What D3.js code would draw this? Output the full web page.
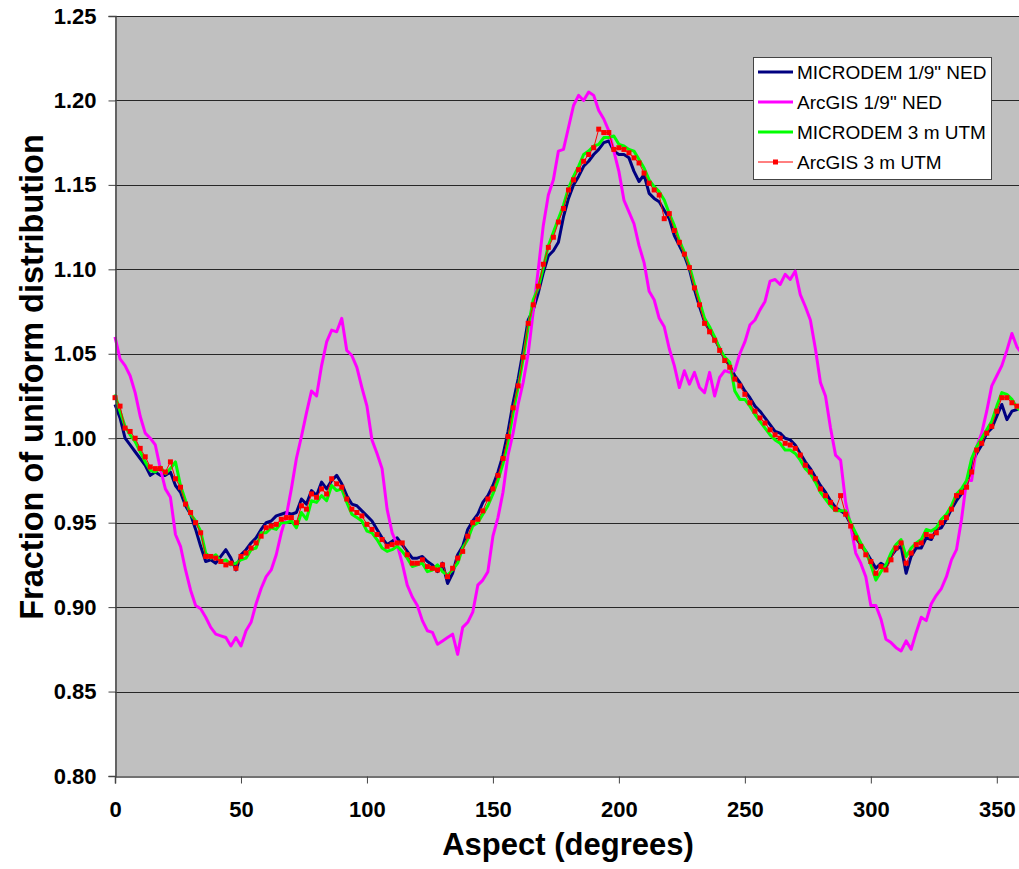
<!DOCTYPE html>
<html>
<head>
<meta charset="utf-8">
<script src="https://cdn.jsdelivr.net/npm/d3@7"></script>
<style>
  body { margin: 0; background: #fff; }
  svg { display: block; font-family: "Liberation Sans", Arial, sans-serif; }
</style>
</head>
<body>
<script>
// aspect, every 2 degrees
var aspect = d3.range(0, 361, 2);

var yTicks = [0.80, 0.85, 0.90, 0.95, 1.00, 1.05, 1.10, 1.15, 1.20, 1.25];
var xTicks = [0, 50, 100, 150, 200, 250, 300, 350];

var seriesNames = ['MICRODEM 1/9" NED', 'ArcGIS 1/9" NED', 'MICRODEM 3 m UTM', 'ArcGIS 3 m UTM'];

var microdemNed = [1.020,1.012,1.000,0.996,0.992,0.988,0.984,0.978,0.980,0.978,0.978,0.980,0.972,0.968,0.960,0.955,0.946,0.936,0.927,0.928,
  0.926,0.930,0.934,0.929,0.922,0.931,0.934,0.938,0.941,0.946,0.950,0.951,0.954,0.955,0.956,0.955,0.956,0.964,0.961,0.969,
  0.966,0.974,0.970,0.975,0.978,0.973,0.966,0.961,0.960,0.957,0.954,0.951,0.946,0.941,0.937,0.939,0.941,0.937,0.933,0.929,
  0.929,0.930,0.927,0.925,0.921,0.926,0.914,0.920,0.931,0.936,0.946,0.951,0.955,0.962,0.966,0.972,0.980,0.990,1.004,1.021,
  1.035,1.052,1.070,1.076,1.086,1.098,1.108,1.111,1.116,1.131,1.142,1.150,1.155,1.161,1.164,1.168,1.171,1.175,1.176,1.170,
  1.168,1.168,1.166,1.158,1.152,1.156,1.145,1.142,1.140,1.135,1.130,1.120,1.114,1.108,1.100,1.088,1.078,1.069,1.064,1.059,
  1.053,1.047,1.043,1.037,1.033,1.028,1.024,1.019,1.016,1.012,1.008,1.004,1.003,1.000,0.999,0.996,0.991,0.986,0.982,0.977,
  0.972,0.968,0.963,0.959,0.957,0.955,0.949,0.941,0.937,0.933,0.928,0.923,0.926,0.924,0.930,0.934,0.936,0.920,0.930,0.935,
  0.935,0.941,0.940,0.946,0.947,0.952,0.958,0.963,0.967,0.972,0.985,0.991,0.996,1.003,1.006,1.013,1.020,1.011,1.016,1.017,
  1.019];

var arcgisNed = [1.060,1.047,1.043,1.037,1.027,1.013,1.003,1.000,0.996,0.982,0.970,0.965,0.943,0.936,0.922,0.910,0.901,0.899,0.894,0.888,
  0.884,0.883,0.882,0.877,0.882,0.877,0.886,0.891,0.902,0.911,0.918,0.922,0.931,0.944,0.954,0.970,0.988,1.001,1.015,1.028,
  1.025,1.043,1.057,1.064,1.063,1.071,1.052,1.049,1.042,1.030,1.019,0.999,0.991,0.982,0.958,0.944,0.937,0.926,0.913,0.906,
  0.901,0.892,0.886,0.885,0.878,0.880,0.882,0.884,0.872,0.888,0.891,0.897,0.913,0.916,0.921,0.942,0.953,0.968,0.990,1.003,
  1.020,1.033,1.050,1.075,1.100,1.126,1.144,1.153,1.170,1.171,1.184,1.197,1.203,1.200,1.205,1.203,1.194,1.189,1.182,1.170,
  1.158,1.141,1.134,1.127,1.114,1.104,1.087,1.082,1.071,1.066,1.053,1.043,1.030,1.040,1.032,1.039,1.030,1.027,1.039,1.025,
  1.036,1.040,1.039,1.040,1.050,1.057,1.067,1.070,1.076,1.081,1.093,1.094,1.091,1.097,1.094,1.099,1.085,1.078,1.070,1.053,
  1.033,1.025,1.006,0.990,0.987,0.962,0.948,0.932,0.926,0.918,0.901,0.901,0.893,0.881,0.879,0.876,0.874,0.880,0.875,0.885,
  0.894,0.892,0.902,0.907,0.911,0.918,0.928,0.934,0.952,0.975,0.975,0.995,1.003,1.016,1.031,1.037,1.043,1.052,1.062,1.054,
  1.050];

var microdemUtm = [1.026,1.016,1.007,1.002,0.998,0.992,0.986,0.981,0.980,0.983,0.979,0.982,0.986,0.972,0.963,0.955,0.951,0.945,0.932,0.929,
  0.931,0.927,0.928,0.925,0.926,0.928,0.929,0.934,0.935,0.944,0.944,0.947,0.946,0.950,0.950,0.951,0.947,0.956,0.952,0.963,
  0.962,0.966,0.963,0.972,0.969,0.970,0.962,0.955,0.953,0.951,0.945,0.944,0.940,0.935,0.933,0.934,0.936,0.933,0.929,0.924,
  0.925,0.926,0.921,0.922,0.925,0.921,0.919,0.922,0.926,0.935,0.940,0.948,0.950,0.955,0.960,0.967,0.975,0.985,0.998,1.015,
  1.030,1.047,1.066,1.082,1.089,1.101,1.114,1.122,1.130,1.138,1.148,1.155,1.161,1.168,1.170,1.173,1.174,1.178,1.178,1.179,
  1.174,1.173,1.171,1.170,1.165,1.160,1.153,1.149,1.146,1.141,1.133,1.126,1.117,1.110,1.102,1.091,1.081,1.071,1.066,1.060,
  1.053,1.048,1.045,1.028,1.023,1.023,1.019,1.014,1.010,1.006,1.002,0.999,0.997,0.993,0.993,0.991,0.987,0.982,0.979,0.974,
  0.968,0.964,0.960,0.957,0.957,0.957,0.950,0.944,0.938,0.933,0.925,0.916,0.921,0.925,0.932,0.937,0.940,0.930,0.935,0.938,
  0.940,0.946,0.945,0.947,0.952,0.955,0.960,0.967,0.970,0.975,0.988,0.995,1.000,1.005,1.010,1.019,1.027,1.026,1.023,1.018,
  1.016];

var arcgisUtm = [1.024,1.019,1.006,1.004,1.000,0.994,0.989,0.983,0.982,0.982,0.980,0.986,0.976,0.971,0.961,0.956,0.950,0.944,0.930,0.930,
  0.929,0.927,0.925,0.926,0.923,0.930,0.932,0.935,0.938,0.942,0.947,0.948,0.949,0.952,0.953,0.953,0.950,0.960,0.958,0.967,
  0.965,0.970,0.967,0.976,0.973,0.971,0.964,0.958,0.956,0.954,0.949,0.946,0.943,0.940,0.936,0.937,0.938,0.938,0.931,0.926,
  0.926,0.928,0.924,0.923,0.922,0.925,0.918,0.923,0.929,0.933,0.942,0.950,0.952,0.957,0.964,0.970,0.978,0.988,1.001,1.018,
  1.031,1.048,1.068,1.079,1.090,1.103,1.113,1.119,1.128,1.136,1.147,1.153,1.159,1.164,1.168,1.172,1.183,1.181,1.181,1.171,
  1.172,1.171,1.169,1.166,1.163,1.157,1.151,1.147,1.144,1.130,1.133,1.123,1.116,1.109,1.101,1.089,1.079,1.068,1.063,1.058,
  1.052,1.046,1.042,1.035,1.031,1.026,1.021,1.016,1.012,1.009,1.005,1.002,1.000,0.997,0.996,0.994,0.990,0.984,0.980,0.976,
  0.970,0.966,0.962,0.958,0.966,0.955,0.948,0.941,0.936,0.931,0.927,0.920,0.924,0.922,0.928,0.935,0.938,0.926,0.932,0.937,
  0.938,0.943,0.942,0.944,0.950,0.953,0.958,0.966,0.968,0.971,0.980,0.993,0.997,1.003,1.007,1.016,1.024,1.024,1.021,1.019,
  1.020];

var colors = ["#000080", "#ff00ff", "#00ff00", "#ff0000"];
var allSeries = [microdemNed, arcgisNed, microdemUtm, arcgisUtm];

var W = 1019, H = 869;
var plotLeft = 115, plotTop = 16, plotRight = 1022, plotBottom = 776;

var svg = d3.select("body").append("svg")
    .attr("width", W)
    .attr("height", H);

var x = d3.scaleLinear().domain([0, 360]).range([plotLeft, plotRight]);
var y = d3.scaleLinear().domain([0.8, 1.25]).range([plotBottom, plotTop]);

// plot area
svg.append("rect")
    .attr("x", plotLeft).attr("y", plotTop)
    .attr("width", plotRight - plotLeft).attr("height", plotBottom - plotTop)
    .attr("fill", "#c0c0c0");

// gridlines
svg.append("g")
    .selectAll("line")
    .data(yTicks.slice(1))
    .enter().append("line")
    .attr("x1", plotLeft).attr("x2", plotRight)
    .attr("y1", function(d){ return Math.round(y(d)) + 0.5; })
    .attr("y2", function(d){ return Math.round(y(d)) + 0.5; })
    .attr("stroke", "#000")
    .attr("stroke-opacity", 0.8);

// series
var line = d3.line()
    .x(function(d, i){ return x(aspect[i]); })
    .y(function(d){ return y(d); });

var plot = svg.append("g");

allSeries.forEach(function(s, k){
    plot.append("path")
        .datum(s)
        .attr("d", line)
        .attr("fill", "none")
        .attr("stroke", colors[k])
        .attr("stroke-width", k == 3 ? 1 : 3)
        .attr("stroke-linejoin", "round");
});

plot.selectAll(".marker")
    .data(arcgisUtm)
    .enter().append("rect")
    .attr("class", "marker")
    .attr("x", function(d, i){ return x(aspect[i]) - 2.5; })
    .attr("y", function(d){ return y(d) - 2.5; })
    .attr("width", 5).attr("height", 5)
    .attr("fill", "#ff0000");

// axes
var yAxis = d3.axisLeft(y).tickValues(yTicks).tickSize(7).tickPadding(12)
    .tickFormat(d3.format(".2f"));
var gy = svg.append("g")
    .attr("transform", "translate(" + (plotLeft + 0.5) + ",0)")
    .call(yAxis);

var xAxis = d3.axisBottom(x).tickValues(xTicks).tickSize(7).tickPadding(18)
    .tickFormat(d3.format("d"));
var gx = svg.append("g")
    .attr("transform", "translate(0," + (plotBottom + 0.5) + ")")
    .call(xAxis);

[gx, gy].forEach(function(g){
    g.select(".domain").attr("stroke", "#444").attr("stroke-width", 1.5);
    g.selectAll(".tick line").attr("stroke", "#444");
    g.selectAll(".tick text")
        .attr("fill", "#000")
        .style("font-size", "22px")
        .style("font-weight", "bold")
        .style("font-family", "'Liberation Sans', Arial, sans-serif");
});

// axis titles
svg.append("text")
    .attr("x", 568).attr("y", 855)
    .attr("text-anchor", "middle")
    .style("font-size", "31px").style("font-weight", "bold")
    .text("Aspect (degrees)");

svg.append("text")
    .attr("transform", "translate(43,377) rotate(-90)")
    .attr("text-anchor", "middle")
    .style("font-size", "32.5px").style("font-weight", "bold")
    .text("Fraction of uniform distribution");

// legend
var legend = svg.append("g").attr("transform", "translate(753,57)");
legend.append("rect")
    .attr("x", 0.5).attr("y", 0.5)
    .attr("width", 238).attr("height", 122)
    .attr("fill", "#fff")
    .attr("stroke", "#444");

var items = legend.selectAll(".item")
    .data(seriesNames)
    .enter().append("g")
    .attr("class", "item")
    .attr("transform", function(d, i){ return "translate(0," + (15 + i * 30) + ")"; });

items.append("line")
    .attr("x1", 5).attr("x2", 40)
    .attr("y1", 0).attr("y2", 0)
    .attr("stroke", function(d, i){ return colors[i]; })
    .attr("stroke-width", function(d, i){ return i == 3 ? 1 : 3; });

items.filter(function(d, i){ return i == 3; })
    .append("rect")
    .attr("x", 20).attr("y", -2.5).attr("width", 5).attr("height", 5)
    .attr("fill", "#ff0000");

items.append("text")
    .attr("x", 44).attr("y", 7)
    .style("font-size", "19px")
    .text(function(d){ return d; });
</script>
</body>
</html>
